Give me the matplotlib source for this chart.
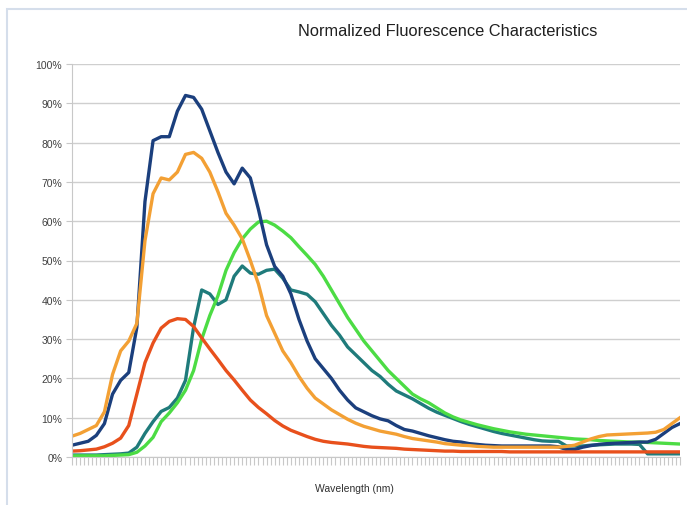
import matplotlib.pyplot as plt
import numpy as np
from matplotlib.patches import Rectangle
from matplotlib.ticker import MultipleLocator, PercentFormatter

# wavelength sample points, 400..700 nm every 4 nm
wavelength = np.arange(400, 701, 4)

navy = [3.0, 3.5, 4.0, 5.5, 8.5, 16.0, 19.5, 21.5, 33, 65,
        80.5, 81.5, 81.5, 88, 92, 91.5, 88.5, 83, 77.5, 72.5,
        69.5, 73.5, 71, 63, 54, 48.5, 46, 41.5, 35, 29.5,
        25, 22.5, 20, 17, 14.5, 12.5, 11.5, 10.5, 9.7, 9.2,
        8.0, 7.0, 6.6, 6.0, 5.4, 4.9, 4.4, 4.0, 3.8, 3.4,
        3.2, 3.0, 2.9, 2.8, 2.8, 2.8, 2.8, 2.8, 2.8, 2.8,
        2.6, 1.9, 1.9, 2.5, 2.9, 3.2, 3.4, 3.5, 3.6, 3.7,
        3.8, 3.8, 4.5, 6.0, 7.5, 8.5]

orange = [5.3, 6.0, 7.0, 8.0, 11.5, 21, 27, 29.5, 34, 55,
          67, 71, 70.5, 72.5, 77, 77.5, 76, 72.5, 67.5, 62,
          59, 55.5, 50, 44, 36, 31.5, 27, 24, 20.5, 17.5,
          15, 13.5, 12.0, 10.8, 9.6, 8.6, 7.8, 7.2, 6.6, 6.2,
          5.8, 5.2, 4.7, 4.4, 4.1, 3.8, 3.4, 3.2, 3.0, 2.9,
          2.7, 2.6, 2.5, 2.5, 2.5, 2.5, 2.5, 2.5, 2.5, 2.5,
          2.5, 2.7, 3.0, 3.8, 4.6, 5.2, 5.6, 5.7, 5.8, 5.9,
          6.0, 6.1, 6.3, 7.0, 8.5, 10]

red = [1.5, 1.6, 1.8, 2.0, 2.6, 3.5, 4.8, 8.0, 16, 24,
       29, 32.8, 34.5, 35.2, 35, 33.2, 30.3, 27.5, 24.8, 22,
       19.6, 17, 14.5, 12.6, 11, 9.3, 7.9, 6.8, 6.0, 5.2,
       4.5, 4.0, 3.7, 3.5, 3.3, 3.0, 2.7, 2.5, 2.4, 2.3,
       2.2, 2.0, 1.9, 1.8, 1.7, 1.6, 1.5, 1.5, 1.4, 1.4,
       1.4, 1.4, 1.4, 1.4, 1.3, 1.3, 1.3, 1.3, 1.3, 1.3,
       1.3, 1.3, 1.3, 1.3, 1.3, 1.3, 1.3, 1.3, 1.3, 1.3,
       1.3, 1.3, 1.3, 1.3, 1.3, 1.3]

teal = [0.5, 0.5, 0.5, 0.5, 0.6, 0.7, 0.8, 1.0, 2.5, 6,
        9, 11.6, 12.6, 15, 19.5, 33, 42.5, 41.5, 38.8, 40,
        46, 48.6, 46.8, 46.5, 47.5, 47.8, 45.5, 42.5, 42, 41.4,
        39.5, 36.5, 33.5, 31, 28, 26, 24, 22, 20.5, 18.5,
        16.8, 15.8, 14.8, 13.6, 12.4, 11.4, 10.6, 9.8, 9.0, 8.3,
        7.7, 7.1, 6.5, 6.0, 5.6, 5.2, 4.8, 4.4, 4.1, 4.0,
        4.0, 2.8, 2.8, 2.8, 3.0, 3.1, 3.2, 3.3, 3.3, 3.3,
        3.2, 0.8, 0.8, 0.8, 0.8, 0.8]

green = [0.3, 0.3, 0.3, 0.3, 0.3, 0.4, 0.5, 0.6, 1.2, 2.8,
         5, 9, 11.2, 13.8, 17, 22, 30, 36, 41, 47.5,
         52, 55.5, 58, 59.8, 60, 59, 57.5, 55.8, 53.5, 51.3,
         49, 46, 42.5, 39, 35.5, 32.5, 29.5, 27, 24.5, 22,
         20, 18, 16, 14.8, 13.8, 12.5, 11.2, 10.2, 9.4, 8.8,
         8.2, 7.7, 7.2, 6.8, 6.4, 6.1, 5.8, 5.6, 5.4, 5.2,
         5.0, 4.8, 4.6, 4.5, 4.4, 4.2, 4.1, 4.0, 3.9, 3.8,
         3.8, 3.7, 3.6, 3.5, 3.4, 3.3]

plt.rcParams['font.family'] = ['Liberation Sans', 'DejaVu Sans']

fig = plt.figure(figsize=(6.87, 5.06), dpi=100)
fig.patches.append(Rectangle((7 / 687, -0.1), 1.1, 1 - 10 / 506 + 0.1,
                             transform=fig.transFigure, fill=False,
                             edgecolor='#d5deeb', linewidth=1.5))

ax = fig.add_axes([72 / 687, 1 - 458 / 506, 608 / 687, 393 / 506])

ax.plot(wavelength, teal, color='#1f7b7b', lw=2.4, solid_joinstyle='round')
ax.plot(wavelength, green, color='#4cdc44', lw=2.4, solid_joinstyle='round')
ax.plot(wavelength, navy, color='#1b3f7d', lw=2.4, solid_joinstyle='round')
ax.plot(wavelength, orange, color='#f3a034', lw=2.4, solid_joinstyle='round')
ax.plot(wavelength, red, color='#e8501c', lw=2.4, solid_joinstyle='round')

ax.set_xlim(400, 700)
ax.set_ylim(0, 100)
ax.yaxis.set_major_locator(MultipleLocator(10))
ax.yaxis.set_major_formatter(PercentFormatter(decimals=0))
ax.grid(axis='y', color='#cfcfcf', lw=1)
ax.set_axisbelow(True)

ax.set_xticks([])
ax.xaxis.set_minor_locator(MultipleLocator(2))
ax.tick_params(axis='x', which='minor', length=6, color='#c8c8c8', width=0.8)
ax.tick_params(axis='y', length=4, color='#c8c8c8', labelsize=7.5,
               labelcolor='#404040', pad=3)

for s in ['top', 'right']:
    ax.spines[s].set_visible(False)
ax.spines['left'].set_color('#c8c8c8')
ax.spines['bottom'].set_color('#c8c8c8')

ax.set_xlabel('Wavelength (nm)', fontsize=7.5, color='#303030')
ax.xaxis.set_label_coords(0.464, -0.066)
fig.text(448 / 687, 1 - 32 / 506, 'Normalized Fluorescence Characteristics',
         ha='center', va='center', fontsize=11.8, color='#202020')

plt.savefig('out.png', dpi=100)
